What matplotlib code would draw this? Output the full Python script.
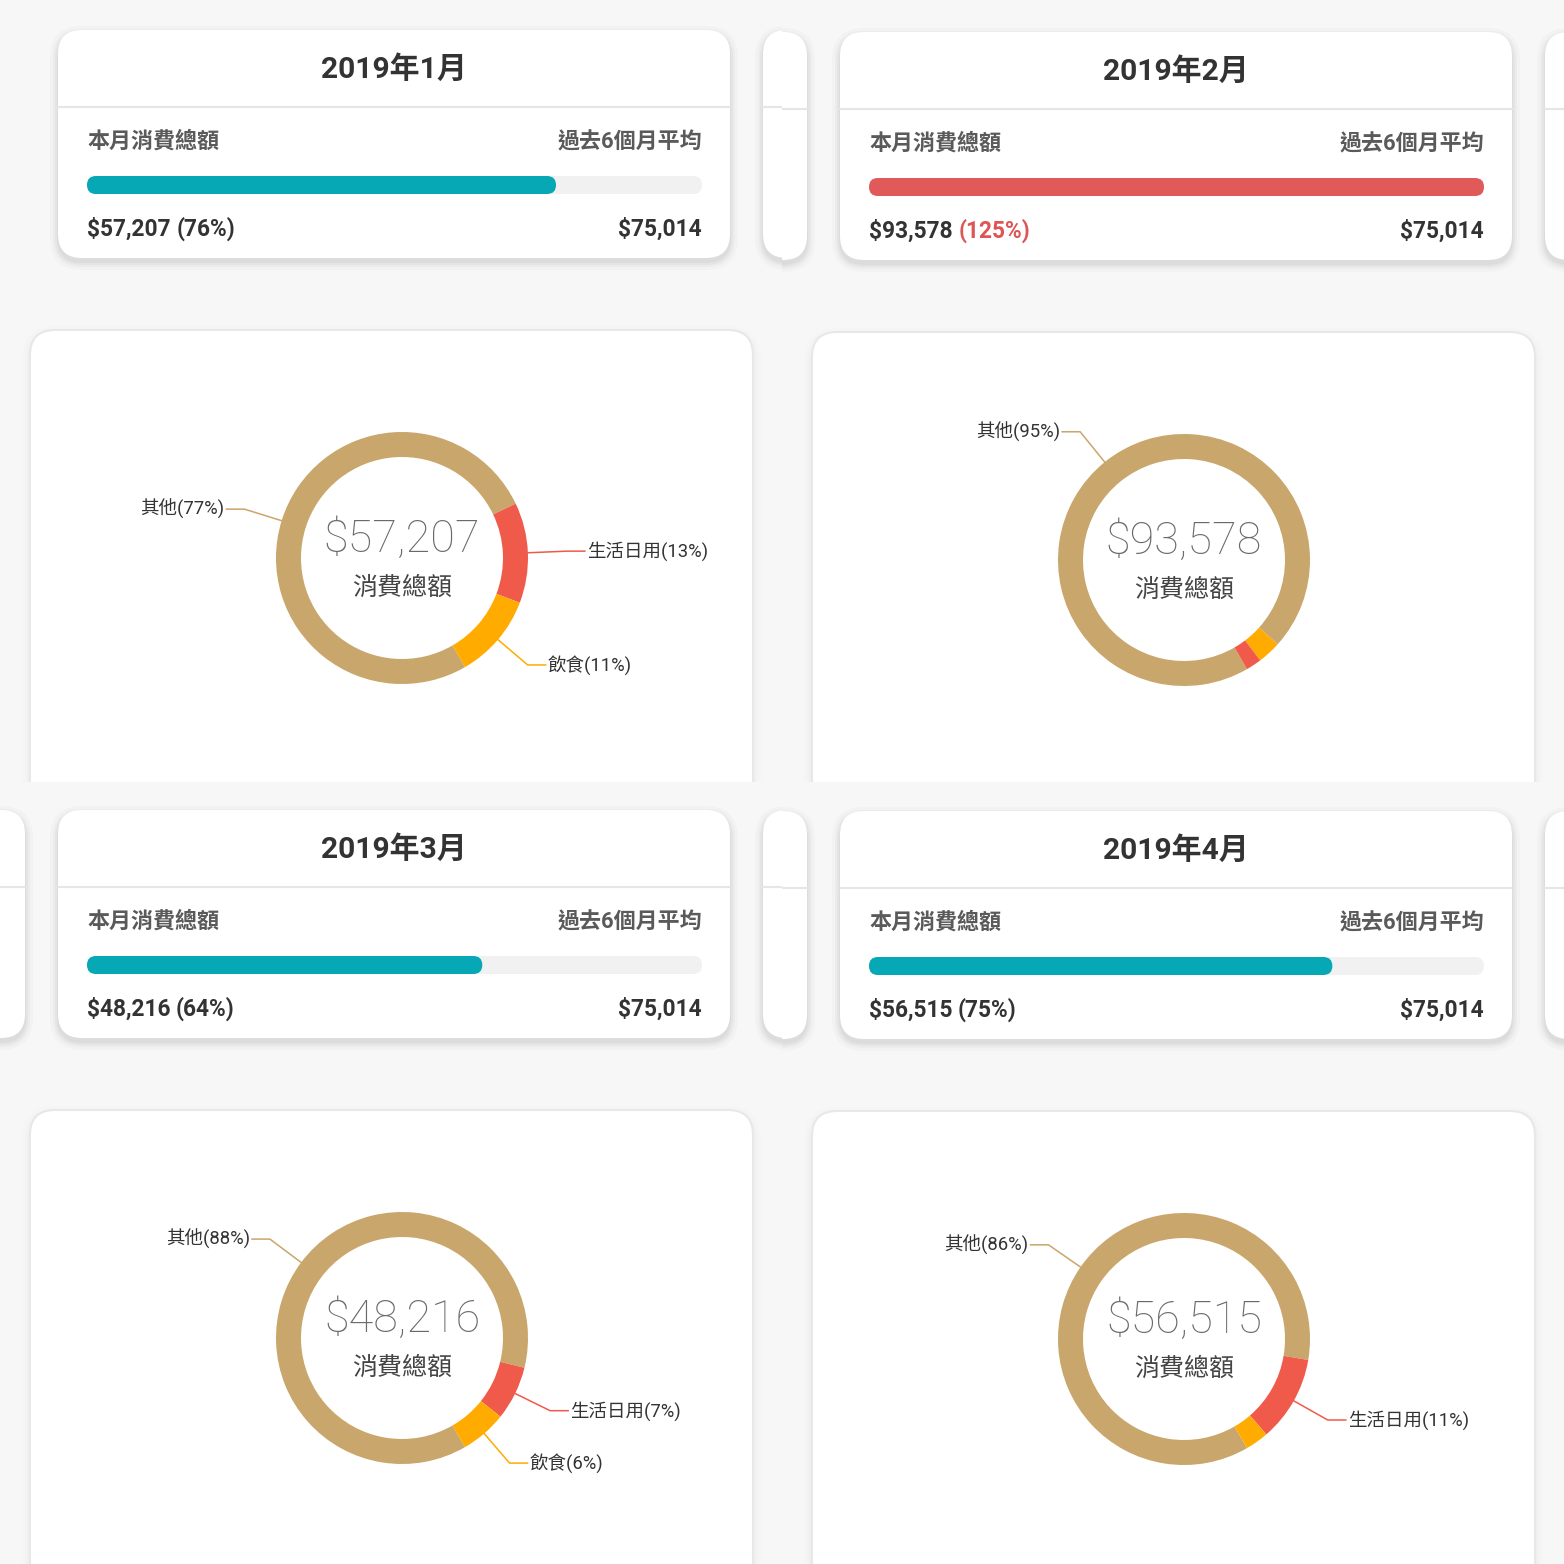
import matplotlib
matplotlib.use("Agg")
import matplotlib.pyplot as plt
from matplotlib.patches import FancyBboxPatch
import numpy as np

plt.rcParams['font.family'] = ['Roboto', 'Noto Sans CJK TC', 'DejaVu Sans']

# data
months = ['2019年1月', '2019年2月', '2019年3月', '2019年4月']
spent = [57207, 93578, 48216, 56515]
avg6 = [75014, 75014, 75014, 75014]

cat_colors = {'其他': '#c9a66b', '生活日用': '#f05a4a', '飲食': '#ffab00'}
cats = ['其他', '生活日用', '飲食']
share_jan = [77, 13, 11]
share_feb = [95, 2, 3]
share_mar = [88, 7, 6]
share_apr = [86, 11, 3]
shares = [share_jan, share_feb, share_mar, share_apr]

has_prev = [False, True, True, True]
panel_dy = [0, 2, -2, -1]

BG = '#f7f7f7'
PT = 72 / 100  # px -> pt
P = 782        # panel size in px

fig = plt.figure(figsize=(15.64, 15.64), dpi=100)
fig.patch.set_facecolor(BG)


def card(ax, x0, y0, x1, y1, r, edge='none', shadow=0.03):
    for pad, a in [(1, shadow), (3, shadow), (5, shadow * 0.8), (8, shadow * 0.6)]:
        ax.add_patch(FancyBboxPatch((x0, y0 + 4), x1 - x0, y1 - y0,
                                    boxstyle=f'round,pad={pad},rounding_size={r + pad}',
                                    fc='black', ec='none', alpha=a))
    ax.add_patch(FancyBboxPatch((x0, y0), x1 - x0, y1 - y0,
                                boxstyle=f'round,pad=0,rounding_size={r}',
                                fc='white', ec=edge, lw=1.5))


def top_card(ax, x0, dy):
    card(ax, x0, 30 + dy, x0 + 672, 258 + dy, 24)
    ax.plot([x0, x0 + 672], [107 + dy, 107 + dy], color='#e6e6e6', lw=1.5 * PT * 1.4)


for i in range(4):
    row, col = divmod(i, 2)
    ax = fig.add_axes([col * 0.5, 1 - (row + 1) * 0.5, 0.5, 0.5])
    ax.set_facecolor(BG)
    dy = panel_dy[i]

    # neighbour cards of the carousel
    if has_prev[i]:
        top_card(ax, 25 - 672, dy)
    top_card(ax, 763, dy)
    top_card(ax, 58, dy)

    ax.text(394, 70 + dy, months[i], fontsize=30 * PT, weight='bold', color='#333333',
            ha='center', va='center')
    ax.text(87, 142 + dy, '本月消費總額', fontsize=22 * PT, weight='bold', color='#5a5a5a',
            ha='left', va='center')
    ax.text(702, 142 + dy, '過去6個月平均', fontsize=22 * PT, weight='bold', color='#5a5a5a',
            ha='right', va='center')

    ratio = spent[i] / avg6[i]
    over = ratio > 1
    bar_w = 615
    ax.add_patch(FancyBboxPatch((87, 176 + dy), bar_w, 18,
                                boxstyle='round,pad=0,rounding_size=9', fc='#f1f1f1', ec='none'))
    ax.add_patch(FancyBboxPatch((87, 176 + dy), bar_w * min(ratio, 1), 18,
                                boxstyle='round,pad=0,rounding_size=9',
                                fc='#e05a5a' if over else '#06a8b6', ec='none'))

    t = ax.text(87, 229 + dy, f'${spent[i]:,}', fontsize=22.8 * PT, weight='bold',
                color='#333333', ha='left', va='center')
    ax.annotate(f'({ratio * 100:.0f}%)', xy=(1, 0.5), xycoords=t, xytext=(4, 0),
                textcoords='offset points', fontsize=22.8 * PT, weight='bold',
                color='#dd5555' if over else '#333333', ha='left', va='center')
    ax.text(702, 229 + dy, f'${avg6[i]:,}', fontsize=22.8 * PT, weight='bold',
            color='#333333', ha='right', va='center')

    # donut card
    card(ax, 30, 330 + dy, 753, 900, 25, edge='#e8e8e8', shadow=0.012)

    cx, cy = 402, 558 + dy
    r_out, ring = 126, 25
    order = np.argsort(shares[i])[::-1]
    vals = [shares[i][k] for k in order]
    names = [cats[k] for k in order]
    cols = [cat_colors[n] for n in names]
    wedges, _ = ax.pie(vals, colors=cols, startangle=60, counterclock=True,
                       radius=r_out, center=(cx, cy),
                       wedgeprops=dict(width=ring, edgecolor='none'))

    for w, n, v in zip(wedges, names, vals):
        if v < 5:
            continue
        th = np.deg2rad((w.theta1 + w.theta2) / 2)
        ux, uy = np.cos(th), np.sin(th)
        s = 1 if ux >= 0 else -1
        p0 = (cx + r_out * ux, cy + r_out * uy)
        p1 = (cx + 165 * ux, cy + 165 * uy)
        p2 = (p1[0] + 18 * s, p1[1])
        ax.plot([p0[0], p1[0], p2[0]], [p0[1], p1[1], p2[1]], color=cat_colors[n], lw=1.1)
        ax.text(p2[0] + 2 * s, p2[1], f'{n}({v}%)', fontsize=18.5 * PT, color='#333333',
                ha='left' if s > 0 else 'right', va='center')

    ax.text(cx, cy - 18, f'${spent[i]:,}', fontsize=45 * PT, weight='light',
            color='#6a6a6a', ha='center', va='center')
    ax.text(cx, cy + 30, '消費總額', fontsize=25 * PT, color='#444444',
            ha='center', va='center')

    ax.set_xlim(0, P)
    ax.set_ylim(P, 0)
    ax.set_aspect('equal')
    ax.axis('off')

fig.savefig('out.png', dpi=100, facecolor=BG)
